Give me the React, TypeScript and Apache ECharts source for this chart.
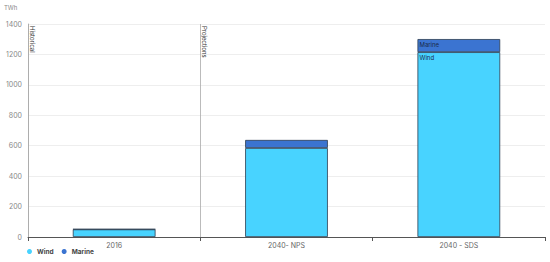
import React, { useEffect, useRef } from "react";
import * as echarts from "echarts";

const categories = ["2016", "2040- NPS", "2040 - SDS"];
const windValues = [50, 585, 1215];
const marineValues = [2, 53, 86];
const yTicks = { min: 0, max: 1400, interval: 200 };
const dividers = [
  { at: 0, label: "Historical" },
  { at: 1, label: "Projections" },
];

export default function App() {
  const ref = useRef<HTMLDivElement>(null);
  useEffect(() => {
    document.body.style.margin = "0";
    const chart = echarts.init(ref.current!, null, { renderer: "svg" });
    const font = "Inter, 'Noto Sans', sans-serif";
    const labelStyle = {
      fontSize: 6,
      color: "#1a2a4a",
      fontFamily: font,
      position: "insideTopLeft",
      distance: 2,
    };
    chart.setOption({
      animation: false,
      textStyle: { fontFamily: font },
      grid: { left: 28, right: 5, top: 24, bottom: 25, containLabel: false },
      legend: {
        left: 22,
        bottom: 2,
        icon: "circle",
        itemWidth: 5,
        itemHeight: 5,
        itemGap: 8,
        itemStyle: { borderWidth: 0 },
        textStyle: { fontSize: 6.5, fontWeight: "bold", color: "#444", fontFamily: font },
        data: ["Wind", "Marine"],
      },
      xAxis: [
        {
          type: "category",
          data: categories,
          axisLine: { lineStyle: { color: "#555", width: 1 } },
          axisTick: { show: true, length: 4, lineStyle: { color: "#555" } },
          axisLabel: { fontSize: 7, color: "#666", margin: 5 },
        },
        {
          type: "value",
          min: 0,
          max: 3,
          show: false,
        },
      ],
      yAxis: {
        type: "value",
        min: yTicks.min,
        max: yTicks.max,
        interval: yTicks.interval,
        axisLine: { show: true, lineStyle: { color: "#bbb" } },
        axisTick: { show: false },
        axisLabel: { fontSize: 7, color: "#888", margin: 6, formatter: (v: number) => String(v) },
        splitLine: { lineStyle: { color: "#eee" } },
      },
      series: [
        {
          name: "Wind",
          type: "bar",
          stack: "total",
          barWidth: "48%",
          itemStyle: { color: "#48d3ff", borderColor: "#2c3e52", borderWidth: 0.8 },
          data: windValues.map((v, i) =>
            i === 2 ? { value: v, label: { show: true, formatter: "Wind", ...labelStyle } } : v
          ),
        },
        {
          name: "Marine",
          type: "bar",
          stack: "total",
          barWidth: "48%",
          itemStyle: { color: "#3b74d1", borderColor: "#2c3e52", borderWidth: 0.8 },
          data: marineValues.map((v, i) =>
            i === 2 ? { value: v, label: { show: true, formatter: "Marine", ...labelStyle } } : v
          ),
        },
        {
          name: "dividers",
          type: "line",
          xAxisIndex: 1,
          data: [],
          silent: true,
          markLine: {
            symbol: "none",
            silent: true,
            label: { show: false },
            lineStyle: { color: "#aaa", type: "solid", width: 0.8 },
            data: dividers.map((d) => ({ xAxis: d.at })),
          },
        },
      ],
    });
    const top = chart.convertToPixel({ yAxisIndex: 0 }, yTicks.max) as number;
    const texts = dividers.map((d) => {
      const x = chart.convertToPixel({ xAxisIndex: 1 }, d.at) as number;
      return {
        type: "text",
        x: x + 1.5,
        y: top + 2,
        rotation: -Math.PI / 2,
        style: {
          text: d.label,
          fontSize: 6,
          fill: "#333",
          fontFamily: font,
          align: "left",
          verticalAlign: "bottom",
        },
      };
    });
    chart.setOption({
      graphic: [
        {
          type: "text",
          left: 4,
          top: 4,
          style: { text: "TWh", fontSize: 6, fill: "#888", fontFamily: font },
        },
        ...texts,
      ],
    });
    return () => chart.dispose();
  }, []);
  return <div ref={ref} style={{ width: 550, height: 262 }} />;
}
